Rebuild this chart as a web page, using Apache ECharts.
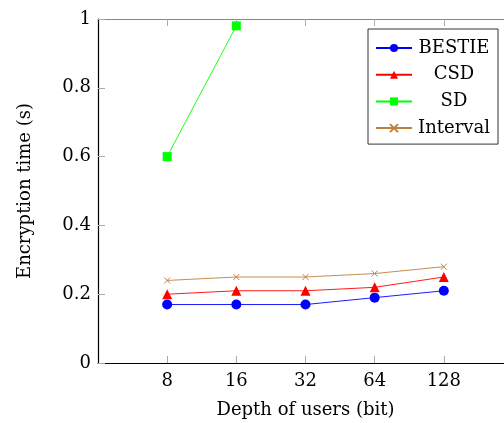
<!DOCTYPE html>
<html>
<head>
<meta charset="utf-8">
<script src="https://cdn.jsdelivr.net/npm/echarts@6/dist/echarts.min.js"></script>
<style>
  html, body { margin: 0; padding: 0; background: #fff; }
  #chart { width: 504px; height: 423px; }
</style>
</head>
<body>
<div id="chart"></div>
<script>
// depth of users (bit), evenly spaced like a log2 axis
var depths = ['8', '16', '32', '64', '128'];
var xCats = [''].concat(depths).concat(['']);
var yTicks = [0, 0.2, 0.4, 0.6, 0.8, 1];

var bestie = [0.17, 0.17, 0.17, 0.19, 0.21];
var csd = [0.20, 0.21, 0.21, 0.22, 0.25];
var sdDepths = ['8', '16'];
var sd = [0.60, 0.98];
var interval = [0.24, 0.25, 0.25, 0.26, 0.28];

var font = 'DejaVu Serif';
var fs = 18;

function pairs(xs, ys) {
    return xs.map(function (x, i) { return [x, ys[i]]; });
}

var chart = echarts.init(document.getElementById('chart'));

function mkSeries(name, color, data, symbol, size, cross) {
    return {
        name: name,
        type: 'line',
        xAxisIndex: 0,
        data: data,
        symbol: symbol,
        symbolSize: size,
        showAllSymbol: true,
        animation: false,
        lineStyle: { color: color, width: 0.9 },
        itemStyle: cross
            ? { color: color, borderColor: color, borderWidth: 1 }
            : { color: color, borderWidth: 0 },
        emphasis: { disabled: true }
    };
}

var option = {
    animation: false,
    textStyle: { fontFamily: font },
    grid: { left: 98, top: 19, width: 415, bottom: 60, outerBoundsMode: 'none', containLabel: false },
    legend: {
        orient: 'vertical',
        left: 368,
        top: 29,
        padding: [9, 7, 6, 7],
        itemGap: 6.7,
        itemWidth: 36,
        itemHeight: 10,
        itemTextGap: 4,
        borderColor: '#333',
        borderWidth: 1,
        backgroundColor: '#fff',
        textStyle: {
            fontFamily: font,
            fontSize: fs,
            color: '#000',
            lineHeight: 20,
            rich: {
                c: { fontFamily: font, fontSize: fs, color: '#000', width: 74, height: 20, lineHeight: 20, align: 'center' }
            }
        },
        formatter: function (n) { return '{c|' + n + '}'; },
        data: ['BESTIE', 'CSD', 'SD', 'Interval']
    },
    xAxis: [{
        type: 'category',
        data: xCats,
        boundaryGap: false,
        position: 'bottom',
        name: 'Depth of users (bit)',
        nameLocation: 'middle',
        nameGap: 38,
        nameTextStyle: { fontFamily: font, fontSize: fs, color: '#000' },
        axisLine: { lineStyle: { color: '#000', width: 1.2 } },
        axisTick: {
            inside: true, length: 7,
            interval: function (i, v) { return v !== ''; },
            lineStyle: { color: '#aaa' }
        },
        axisLabel: { fontFamily: font, fontSize: fs, color: '#000', margin: 9, interval: 0 },
        splitLine: { show: false }
    }, {
        type: 'category',
        data: xCats,
        boundaryGap: false,
        position: 'top',
        axisLine: { lineStyle: { color: '#888', width: 1 } },
        axisTick: {
            inside: true, length: 7,
            interval: function (i, v) { return v !== ''; },
            lineStyle: { color: '#aaa' }
        },
        axisLabel: { show: false },
        splitLine: { show: false }
    }],
    yAxis: {
        type: 'value',
        min: 0,
        max: 1,
        interval: 0.2,
        name: 'Encryption time (s)',
        nameLocation: 'middle',
        nameGap: 64,
        nameTextStyle: { fontFamily: font, fontSize: fs, color: '#000' },
        axisLine: { show: true, lineStyle: { color: '#000', width: 1.2 } },
        axisTick: { show: true, inside: true, length: 7, lineStyle: { color: '#aaa' } },
        axisLabel: {
            fontFamily: font, fontSize: fs, color: '#000', margin: 7,
            formatter: function (v) {
                var t = yTicks.filter(function (y) { return Math.abs(y - v) < 1e-9; });
                return t.length ? String(t[0]) : '';
            }
        },
        splitLine: { show: false }
    },
    series: [
        mkSeries('BESTIE', '#0000ff', pairs(depths, bestie), 'circle', 10, false),
        mkSeries('CSD', '#ff0000', pairs(depths, csd), 'triangle', 10, false),
        mkSeries('SD', '#00ff00', pairs(sdDepths, sd), 'rect', 9, false),
        mkSeries('Interval', '#bf8040', pairs(depths, interval), 'path://M0,0L10,10M10,0L0,10', 6, true)
    ]
};

chart.setOption(option);
</script>
</body>
</html>
